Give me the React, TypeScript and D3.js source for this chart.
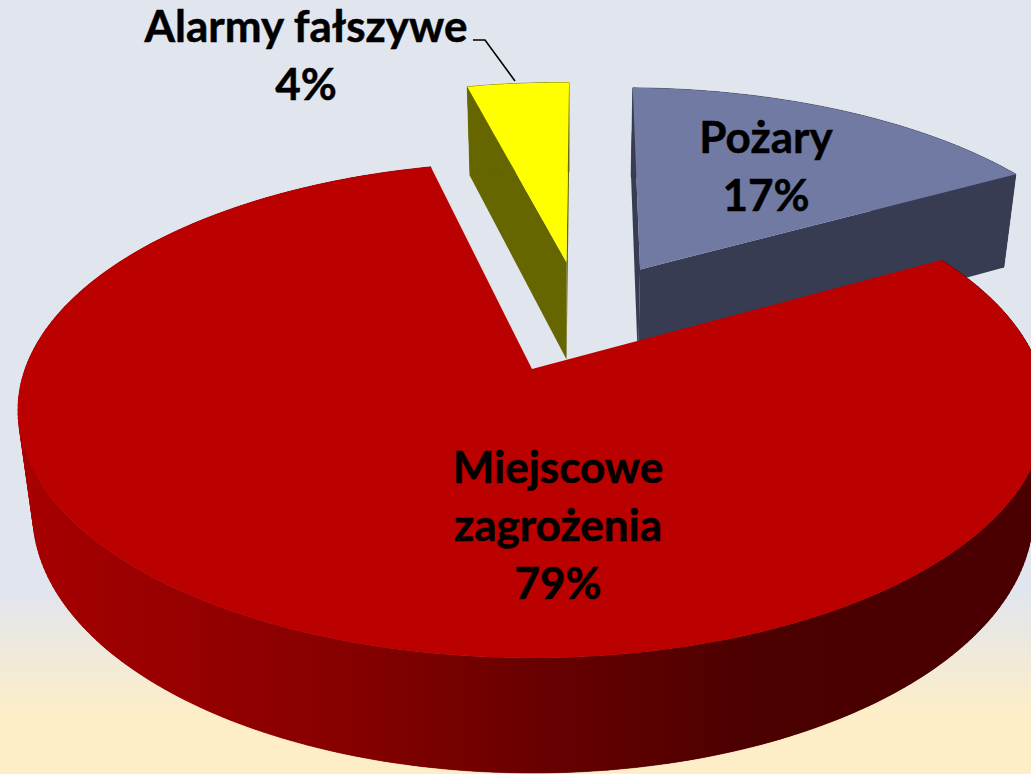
import React from "react";
import * as d3 from "d3";

const categories = ["Pożary", "Miejscowe zagrożenia", "Alarmy fałszywe"];
const values = [16.6, 79.4, 4];
const topColors = ["#717aa3", "#bb0000", "#ffff00"];
const wallColors = ["#383c52", "url(#redWall)", "#666600"];
const redWallStops = ["#a60000", "#860000", "#6a0000", "#4c0000", "#4a0000"];
const redWallPos = [33, 350, 530, 750, 1030];
const labelLines = [["Pożary", "17%"], ["Miejscowe", "zagrożenia", "79%"], ["Alarmy fałszywe", "4%"]];

const width = 1031;
const height = 774;

// top plane: unit circle seen in perspective, ends up as an ellipse
const cx = 532, cy = 410, rx = 514, ry = 248, persp = 0.165;
const explode = 0.25;
const firstAngle = Math.PI / 180;
const fontSize = 44;
const lineGap = 58;

const arcs = d3.pie<number>().sort(null).startAngle(firstAngle).endAngle(firstAngle + 2 * Math.PI)(values);

const offsetOf = (a: d3.PieArcDatum<number>) => {
  const mid = (a.startAngle + a.endAngle) / 2;
  return [explode * Math.sin(mid), -explode * Math.cos(mid)];
};
const anchor = offsetOf(arcs[1]); // the big slice sits at the fitted apex

function project(x: number, y: number): [number, number] {
  const px = x - anchor[0];
  const py = y - anchor[1];
  const w = 1 - persp * py;
  const u = (px * Math.sqrt(1 - persp * persp)) / w;
  const v = (py - persp) / w;
  return [cx + rx * u, cy + ry * v];
}

// the same point on the bottom face of the disc
const drop = ([x, y]: [number, number]): [number, number] => [533 + (x - 532) * 0.973, 1.045 * y + 85.4];

const rimPoints = (a: d3.PieArcDatum<number>) => {
  const [ox, oy] = offsetOf(a);
  const angles = d3.range(a.startAngle, a.endAngle, Math.PI / 180).concat(a.endAngle);
  return angles.map((t) => project(ox + Math.sin(t), oy - Math.cos(t)));
};

const line = d3.line();

const labelPos = [
  [766, 153],
  [558, 483],
  [306, 42],
];

export default function App() {
  return (
    <svg width={width} height={height} style={{ position: "absolute", left: 0, top: 0 }}>
      <defs>
        <linearGradient id="bg" x1="0" x2="0" y1="0" y2="1">
          <stop offset="0.765" stopColor="#e1e5ee" />
          <stop offset="0.92" stopColor="#fdeec8" />
        </linearGradient>
        <linearGradient id="redWall" gradientUnits="userSpaceOnUse" x1={0} x2={width} y1={0} y2={0}>
          {redWallStops.map((c, i) => (
            <stop key={i} offset={redWallPos[i] / width} stopColor={c} />
          ))}
        </linearGradient>
      </defs>
      <rect width={width} height={height} fill="url(#bg)" />

      {[2, 0, 1].map((i) => {
        const a = arcs[i];
        const [ox, oy] = offsetOf(a);
        const apex = project(ox, oy);
        const rim = rimPoints(a);
        const first = rim[0];
        const last = rim[rim.length - 1];
        return (
          <g key={categories[i]}>
            {i !== 1 && (
              <>
                <path d={line([apex, first, drop(first), drop(apex)])!} fill={wallColors[i]} />
                <path d={line([apex, last, drop(last), drop(apex)])!} fill={wallColors[i]} />
              </>
            )}
            {/* single quads fill the tangent corners, the strip on top hides their seams */}
            {d3.pairs(rim).map(([p, q], k) => (
              <path
                key={k}
                d={line([p, q, drop(q), drop(p)]) + "Z"}
                fill={wallColors[i]}
                stroke={wallColors[i]}
                strokeWidth={0.6}
              />
            ))}
            <path d={line([...rim, ...rim.map(drop).reverse()]) + "Z"} fill={wallColors[i]} />
            <path d={line([apex, ...rim]) + "Z"} fill={topColors[i]} />
          </g>
        );
      })}

      <path d="M473,40H485L515,81" fill="none" stroke="#000" strokeWidth={1.6} />

      {labelLines.map((lines, i) => (
        <text
          key={categories[i]}
          textAnchor="middle"
          fontFamily="Lato"
          fontWeight={700}
          fontSize={fontSize}
          fill="#000"
          stroke="#000"
          strokeWidth={0.5}
        >
          {lines.map((t, k) => (
            <tspan key={t} x={labelPos[i][0]} y={labelPos[i][1] + k * lineGap}>
              {t}
            </tspan>
          ))}
        </text>
      ))}
    </svg>
  );
}
